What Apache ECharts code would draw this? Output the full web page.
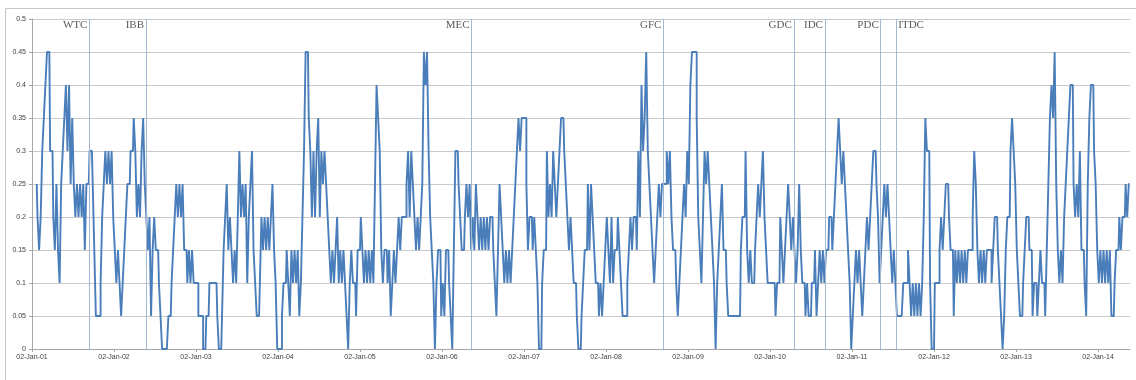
<!DOCTYPE html>
<html><head><meta charset="utf-8">
<script src="https://cdn.jsdelivr.net/npm/echarts/dist/echarts.min.js"></script>
<style>html,body{margin:0;padding:0;background:#fff;}#c{width:1136px;height:380px;}</style>
</head><body><div id="c"></div>
<script>
// weekly readings (52 per year, week index k -> year + k/52)
const y2001 = [null,null,null,0.25,0.2,0.15,0.2,0.3,0.35,0.4,0.45,0.45,0.3,0.3,0.2,0.15,0.25,0.15,0.1,0.25,0.3,0.35,0.4,0.3,0.4,0.25,0.35,0.25,0.2,0.25,0.2,0.25,0.2,0.25,0.15,0.25,0.25,0.3,0.3,0.25,0.15,0.05,0.05,0.05,0.1,0.2,0.25,0.3,0.25,0.3,0.25,0.3];
const y2002 = [0.2,0.15,0.1,0.15,0.1,0.05,0.1,0.15,0.2,0.25,0.25,0.3,0.3,0.35,0.3,0.2,0.25,0.2,0.3,0.35,0.25,0.2,0.15,0.2,0.05,0.15,0.2,0.15,0.15,0.1,0.05,0,0,0,0,0.05,0.05,0.1,0.15,0.2,0.25,0.2,0.25,0.2,0.25,0.15,0.15,0.1,0.15,0.1,0.15,0.1];
const y2003 = [0.1,0.1,0.05,0.05,0.05,0,0,0.05,0.05,0.1,0.1,0.1,0.1,0.1,0.05,0,0,0.05,0.15,0.2,0.25,0.15,0.2,0.15,0.1,0.15,0.1,0.2,0.3,0.2,0.25,0.2,0.25,0.1,0.2,0.25,0.3,0.15,0.1,0.05,0.05,0.1,0.2,0.15,0.2,0.15,0.2,0.15,0.2,0.25,0.15,0.1];
const y2004 = [0,0,0,0.05,0.1,0.1,0.15,0.1,0.05,0.15,0.1,0.15,0.1,0.15,0.05,0.1,0.2,0.3,0.45,0.45,0.35,0.3,0.2,0.3,0.2,0.3,0.35,0.2,0.3,0.25,0.3,0.25,0.2,0.15,0.1,0.15,0.1,0.15,0.2,0.1,0.15,0.1,0.15,0.1,0.05,0,0.1,0.15,0.1,0.1,0.05,0.15];
const y2005 = [0.15,0.2,0.15,0.1,0.15,0.1,0.15,0.1,0.15,0.1,0.25,0.4,0.35,0.3,0.15,0.1,0.15,0.15,0.1,0.15,0.05,0.1,0.15,0.1,0.15,0.2,0.15,0.2,0.2,0.2,0.25,0.3,0.2,0.3,0.25,0.2,0.15,0.2,0.15,0.2,0.25,0.45,0.4,0.45,0.3,0.2,0.15,0.1,0,0.1,0.15,0.15];
const y2006 = [0.05,0.1,0.05,0.15,0.15,0.1,0.05,0,0.15,0.3,0.3,0.25,0.2,0.15,0.15,0.2,0.25,0.2,0.25,0.15,0.2,0.15,0.25,0.2,0.15,0.2,0.15,0.2,0.15,0.2,0.15,0.2,0.2,0.15,0.1,0.05,0.15,0.25,0.2,0.15,0.1,0.15,0.1,0.15,0.1,0.15,0.2,0.25,0.3,0.35,0.3,0.35];
const y2007 = [0.35,0.35,0.25,0.15,0.2,0.2,0.15,0.2,0.15,0.1,0,0,0.1,0.15,0.15,0.3,0.2,0.25,0.2,0.3,0.25,0.2,0.25,0.3,0.35,0.35,0.3,0.25,0.2,0.15,0.2,0.15,0.1,0.1,0.05,0,0,0.05,0.1,0.15,0.15,0.25,0.15,0.25,0.2,0.15,0.1,0.1,0.05,0.1,0.05,0.1];
const y2008 = [0.15,0.2,0.15,0.1,0.2,0.1,0.15,0.15,0.2,0.15,0.1,0.05,0.05,0.05,0.1,0.15,0.2,0.15,0.2,0.2,0.15,0.3,0.2,0.4,0.3,0.35,0.45,0.3,0.25,0.2,0.15,0.1,0.15,0.2,0.25,0.2,0.25,0.25,0.25,0.3,0.25,0.3,0.2,0.15,0.15,0.1,0.05,0.1,0.15,0.2,0.25,0.2];
const y2009 = [0.3,0.25,0.4,0.45,0.45,0.45,0.35,0.2,0.15,0.1,0.2,0.3,0.25,0.3,0.25,0.2,0.15,0.1,0,0.1,0.15,0.2,0.25,0.15,0.15,0.1,0.05,0.05,0.05,0.05,0.05,0.05,0.05,0.05,0.15,0.2,0.2,0.3,0.15,0.1,0.15,0.1,0.1,0.15,0.2,0.25,0.2,0.25,0.3,0.2,0.15,0.1];
const y2010 = [0.1,0.1,0.1,0.1,0.05,0.1,0.1,0.2,0.15,0.1,0.15,0.2,0.25,0.2,0.15,0.2,0.15,0.1,0.15,0.25,0.15,0.1,0.1,0.05,0.1,0.05,0.05,0.1,0.1,0.15,0.05,0.1,0.15,0.1,0.15,0.1,0.15,0.15,0.2,0.2,0.15,0.2,0.25,0.3,0.35,0.3,0.25,0.3,0.25,0.2,0.15,0.1];
const y2011 = [0,0.05,0.1,0.15,0.1,0.15,0.1,0.05,0.1,0.15,0.2,0.15,0.2,0.25,0.3,0.3,0.25,0.2,0.1,0.15,0.2,0.25,0.2,0.25,0.2,0.15,0.1,0.15,0.1,0.05,0.05,0.05,0.05,0.1,0.1,0.1,0.15,0.1,0.05,0.1,0.05,0.1,0.05,0.1,0.05,0.1,0.2,0.35,0.3,0.3,0.1,0];
const y2012 = [0,0.1,0.1,0.1,0.15,0.2,0.15,0.2,0.25,0.25,0.2,0.15,0.15,0.05,0.15,0.1,0.15,0.1,0.15,0.1,0.15,0.1,0.15,0.15,0.15,0.2,0.3,0.25,0.15,0.1,0.15,0.1,0.15,0.1,0.15,0.15,0.15,0.1,0.15,0.2,0.2,0.15,0.1,0.05,0,0.05,0.15,0.2,0.2,0.3,0.35,0.3];
const y2013 = [0.25,0.15,0.1,0.05,0.05,0.1,0.15,0.2,0.2,0.15,0.15,0.05,0.1,0.1,0.05,0.1,0.15,0.1,0.1,0.05,0.15,0.25,0.35,0.4,0.35,0.45,0.25,0.15,0.1,0.15,0.1,0.2,0.25,0.3,0.35,0.4,0.4,0.25,0.2,0.25,0.2,0.3,0.15,0.15,0.1,0.05,0.25,0.35,0.4,0.4,0.3,0.25];
const y2014 = [0.15,0.1,0.15,0.1,0.15,0.1,0.15,0.1,0.15,0.05,0.05,0.1,0.15,0.15,0.2,0.15,0.2,0.2,0.25,0.2,0.25];

const years = [2001,2002,2003,2004,2005,2006,2007,2008,2009,2010,2011,2012,2013,2014];
const yearValues = [y2001,y2002,y2003,y2004,y2005,y2006,y2007,y2008,y2009,y2010,y2011,y2012,y2013,y2014];

// event markers (year fraction)
const eventNames = ['WTC','IBB','MEC','GFC','GDC','IDC','PDC','ITDC'];
const eventDates = [2001.70, 2002.39, 2006.36, 2008.70, 2010.29, 2010.67, 2011.35, 2011.54];

// y ticks
const yMin = 0, yMax = 0.5, yStep = 0.05;

const seriesData = [];
years.forEach((yr, i) => {
  yearValues[i].forEach((v, k) => { if (v !== null) seriesData.push([yr + k / 52, v]); });
});

const chart = echarts.init(document.getElementById('c'), null, {renderer: 'canvas'});
chart.setOption({
  animation: false,
  backgroundColor: '#ffffff',
  graphic: [{
    type: 'polyline', silent: true,
    shape: {points: [[5.5, 380], [5.5, 8.5], [1136, 8.5]]},
    style: {stroke: '#c6c6c6', lineWidth: 1, fill: null}
  }],
  grid: {left: 32, right: 6, top: 19, bottom: 31},
  xAxis: {
    type: 'value', min: 2001, max: 2014.39, interval: 1,
    axisLine: {lineStyle: {color: '#a6a6a6'}},
    axisTick: {length: 3, lineStyle: {color: '#a6a6a6'}},
    axisLabel: {
      fontFamily: 'Liberation Sans', fontSize: 7, color: '#404040', margin: 5,
      showMaxLabel: false,
      formatter: v => Math.abs(v - Math.round(v)) < 1e-6 ? '02-Jan-' + String(Math.round(v) % 100).padStart(2, '0') : ''
    },
    splitLine: {show: false}
  },
  yAxis: {
    type: 'value', min: yMin, max: yMax, interval: yStep,
    axisLine: {show: true, lineStyle: {color: '#a6a6a6'}},
    axisTick: {show: true, length: 3, lineStyle: {color: '#a6a6a6'}},
    axisLabel: {fontFamily: 'Liberation Sans', fontSize: 7, color: '#404040', margin: 6,
      formatter: v => String(+v.toFixed(2))},
    splitLine: {lineStyle: {color: '#c9c9c9', width: 1}}
  },
  series: [
    {
      type: 'line', data: seriesData, symbol: 'none', z: 3, step: 'middle',
      lineStyle: {color: '#4a7ebb', width: 1.9}
    },
    {
      type: 'scatter', symbolSize: 0, z: 4, silent: true,
      data: eventNames.map((n, i) => ({
        name: n, value: [eventDates[i], yMax],
        label: {position: n === 'ITDC' ? 'right' : 'left'}
      })),
      label: {show: true, formatter: '{b}', fontFamily: 'Liberation Serif', fontSize: 11,
        color: '#303030', distance: 2, offset: [0, 6]},
      markLine: {
        silent: true, symbol: ['none', 'none'], label: {show: false},
        lineStyle: {color: '#a3b9d1', width: 1, type: 'solid'},
        data: eventDates.map(d => ({xAxis: d}))
      }
    }
  ]
});
</script></body></html>
